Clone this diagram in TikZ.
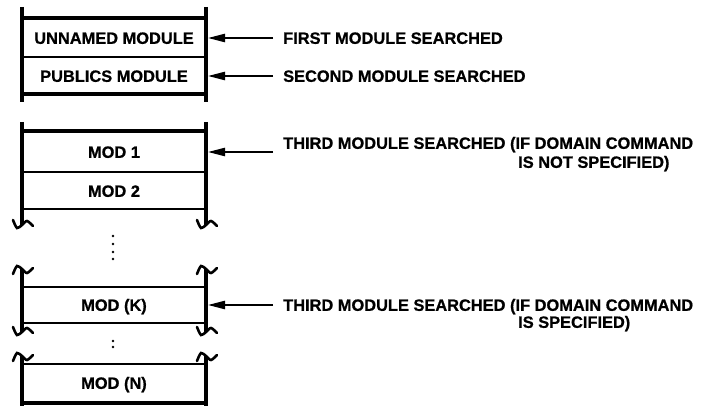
\documentclass[tikz,border=0pt]{standalone}
\usepackage{fontspec}
\setmainfont{Liberation Sans}[BoldFeatures={FakeBold=0.8}]
\usetikzlibrary{arrows.meta}
\tikzset{
	lbl/.style={font=\fontsize{16.4}{19}\selectfont\bfseries, inner sep=0pt, text height=11.7pt, text depth=0pt},
	row/.style={lbl, minimum width=184pt},
	bar/.style={line width=4.4pt},
	rule/.style={line width=1.8pt},
	heavyrule/.style={line width=3.6pt},
	curl/.style={line width=2.6pt, line cap=round},
	arr/.style={line width=1.2pt, -{Triangle[length=17pt, width=8.5pt]}, shorten <=10pt, shorten >=2pt}
}
% broken end of a side bar, {1} below and {-1} on top
\def\brk(#1,#2)#3{\draw[curl, shift={(#1,#2)}, yscale=#3] plot[smooth] coordinates {(-9,-5) (-5,3) (0,0) (5,-4) (11,1)};}

\begin{document}
\begin{tikzpicture}[x=1pt, y=-1pt]
			%%%%% START %%%%%
			\useasboundingbox (0,0) rectangle (701,406);
			
			% side bars of the four stacks
			\foreach \x in {22,206} {
				\draw[bar] (\x,7) -- (\x,102);
				\draw[bar] (\x,122) -- (\x,225);
				\draw[bar] (\x,269) -- (\x,332);
				\draw[bar] (\x,356) -- (\x,406);
				\brk(\x,225){1}
				\brk(\x,269){-1}
				\brk(\x,332){1}
				\brk(\x,356){-1}
			}
			
			% rules between the rows
			\foreach \y in {18,94,131,403}
				\draw[heavyrule] (22,\y) -- (206,\y);
			\foreach \y in {57,172,209,287,323,364}
				\draw[rule] (22,\y) -- (206,\y);
			
			\node[row] (unnamed) at (114,38) {UNNAMED MODULE};
			\node[row] (publics) at (114,76) {PUBLICS MODULE};
			\node[row] (mod1) at (114,152) {MOD 1};
			\node[row] (mod2) at (114,191) {MOD 2};
			\node[row] (modk) at (114,305) {MOD (K)};
			\node[row] (modn) at (114,383) {MOD (N)};
			
			% skipped modules
			\foreach \y in {236,244,252,259}
				\fill (113,\y) circle (1.4);
			\foreach \y in {341,347}
				\fill (113,\y) circle (1.4);
			
			\node[lbl, anchor=west] (first) at (283,38) {FIRST MODULE SEARCHED};
			\node[lbl, anchor=west] (second) at (283,76) {SECOND MODULE SEARCHED};
			\node[lbl, anchor=west] (thirdall) at (283,143) {THIRD MODULE SEARCHED (IF DOMAIN COMMAND};
			\node[lbl, anchor=west] (thirdallb) at (518,162) {IS NOT SPECIFIED)};
			\node[lbl, anchor=west] (thirddom) at (283,305) {THIRD MODULE SEARCHED (IF DOMAIN COMMAND};
			\node[lbl, anchor=west] (thirddomb) at (518,322) {IS SPECIFIED)};
			
			\draw[arr] (first.west) -- (unnamed.east);
			\draw[arr] (second.west) -- (publics.east);
			\draw[arr] (mod1.east -| thirdall.west) -- (mod1.east);
			\draw[arr] (modk.east -| thirddom.west) -- (modk.east);
			%%%%% END %%%%%
\end{tikzpicture}
\end{document}
